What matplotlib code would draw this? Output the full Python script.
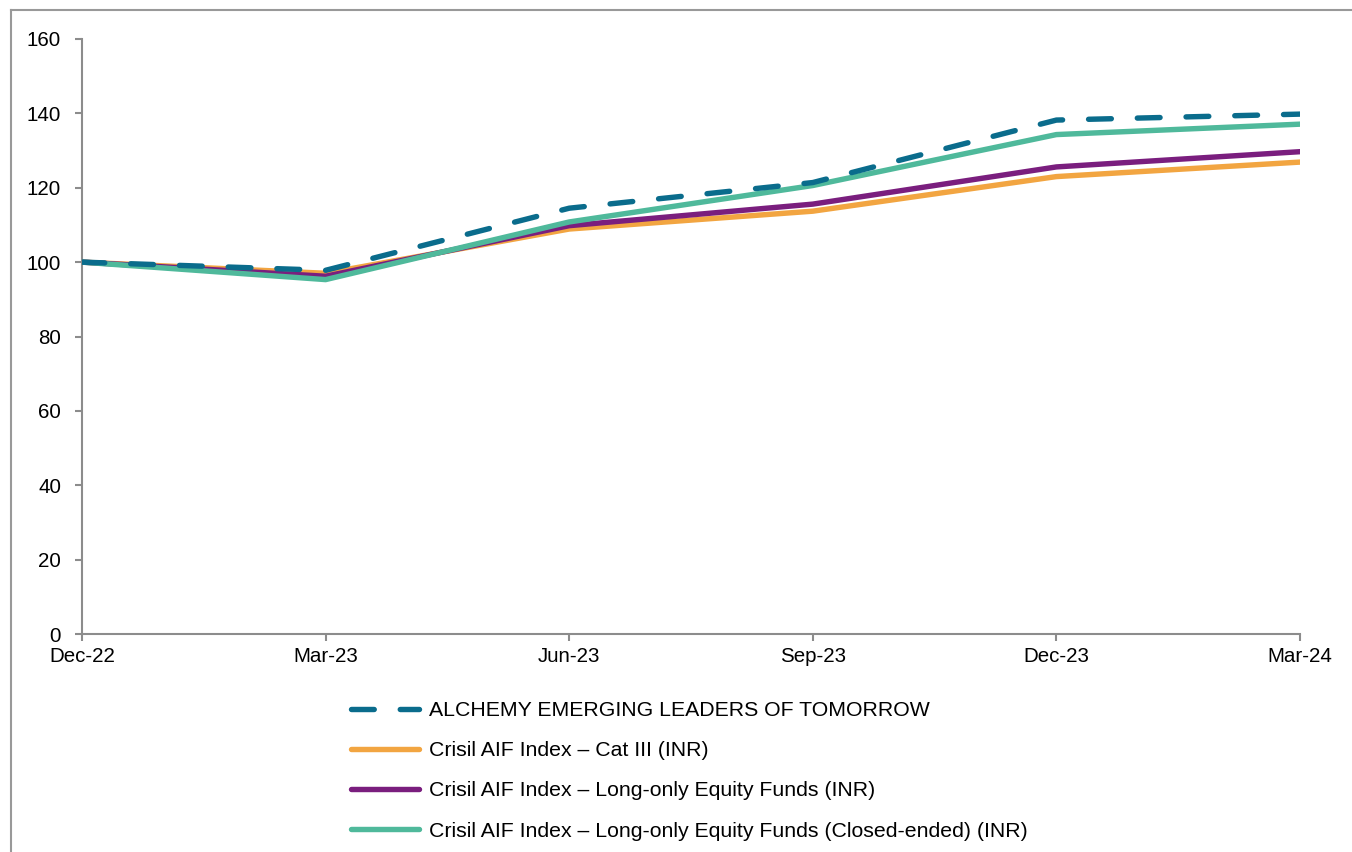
import matplotlib
matplotlib.use("Agg")
import matplotlib.pyplot as plt
from matplotlib.lines import Line2D

plt.rcParams['font.family'] = ['Liberation Sans', 'DejaVu Sans']

categories = ["Dec-22", "Mar-23", "Jun-23", "Sep-23", "Dec-23", "Mar-24"]
alchemy = [100, 97.8, 114.5, 121.4, 138.2, 139.8]
cat3 = [100, 97.0, 108.9, 113.7, 123.0, 126.9]
long_only = [100, 96.2, 109.8, 115.6, 125.6, 129.7]
closed_ended = [100, 95.3, 110.8, 120.6, 134.3, 137.1]

labels = [
    "ALCHEMY EMERGING LEADERS OF TOMORROW",
    "Crisil AIF Index \u2013 Cat III (INR)",
    "Crisil AIF Index \u2013 Long-only Equity Funds (INR)",
    "Crisil AIF Index \u2013 Long-only Equity Funds (Closed-ended) (INR)",
]
yticks = [0, 20, 40, 60, 80, 100, 120, 140, 160]

c_dash = "#0A6C8C"
c_orange = "#F2A541"
c_purple = "#7A1E7E"
c_green = "#4FB99B"

W, H = 1352, 852
fig = plt.figure(figsize=(W / 100, H / 100), dpi=100)
ax = fig.add_axes([82 / W, 1 - 634 / H, (1300 - 82) / W, (634 - 39) / H])

x = list(range(len(categories)))
lw = 3.9
fs = 14.8
lfs = 15.3
ax.plot(x, cat3, color=c_orange, lw=lw, solid_capstyle='round', zorder=3)
ax.plot(x, long_only, color=c_purple, lw=lw, solid_capstyle='round', zorder=4)
ax.plot(x, closed_ended, color=c_green, lw=lw, solid_capstyle='round', zorder=5)
ax.plot(x, alchemy, color=c_dash, lw=lw, dashes=(4.2, 4.8), dash_capstyle='round', zorder=6)

ax.set_xlim(0, len(categories) - 1)
ax.set_ylim(0, 160)
ax.set_yticks(yticks)
ax.set_xticks(x)
ax.set_xticklabels(categories)
for s in ['top', 'right']:
    ax.spines[s].set_visible(False)
for s in ['left', 'bottom']:
    ax.spines[s].set_color('#8C8C8C')
    ax.spines[s].set_linewidth(1.5)
ax.tick_params(axis='both', colors='#8C8C8C', length=5, width=1.5, labelsize=fs,
               labelcolor='black')
ax.tick_params(axis='y', pad=10)
ax.tick_params(axis='x', pad=4)

handles = [
    Line2D([], [], color=c_dash, lw=lw, dashes=(4.2, 4.8), dash_capstyle='round'),
    Line2D([], [], color=c_orange, lw=lw, solid_capstyle='round'),
    Line2D([], [], color=c_purple, lw=lw, solid_capstyle='round'),
    Line2D([], [], color=c_green, lw=lw, solid_capstyle='round'),
]
fig.legend(handles, labels, loc='upper left', bbox_to_anchor=(351 / W, 1 - 701 / H),
           frameon=False, fontsize=lfs, handlelength=3.2, handletextpad=0.45,
           labelspacing=1.0, borderpad=0, borderaxespad=0)

# outer chart border
fig.add_artist(Line2D([11 / W, 11 / W], [0, 1 - 10 / H], transform=fig.transFigure,
                      color='#999999', lw=1.5))
fig.add_artist(Line2D([11 / W, 1], [1 - 10 / H, 1 - 10 / H], transform=fig.transFigure,
                      color='#999999', lw=1.5))

fig.savefig("out.png", dpi=100)
